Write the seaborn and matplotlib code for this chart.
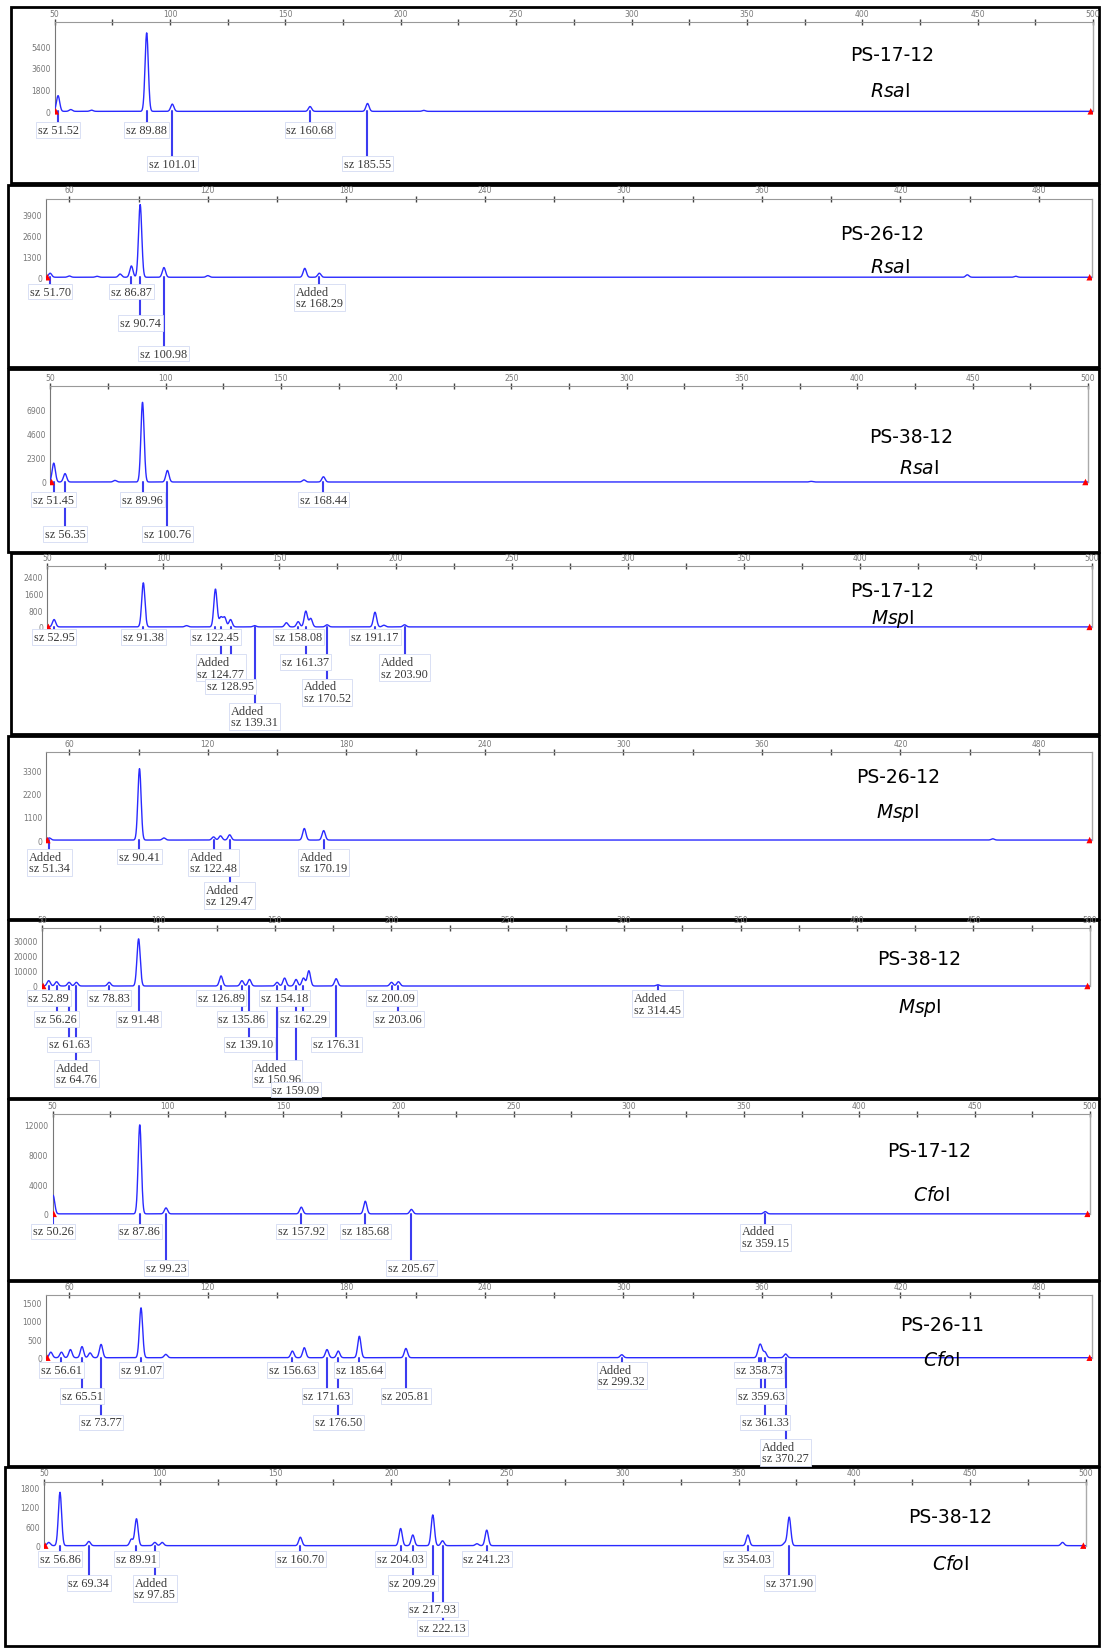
"""Recreate the T-RFLP electropherogram panels (RsaI / MspI / CfoI)."""
import numpy as np
import pandas as pd
import seaborn as sns
import matplotlib
matplotlib.use('Agg')
import matplotlib.pyplot as plt
from matplotlib.patches import Rectangle

# ---------------------------------------------------------------- data
# peaks: fragment size (bp) and height (RFU); calls: labelled sizes
p1_peak_size = [51.5, 57, 66, 89.9, 101.0, 160.7, 185.6, 210]
p1_peak_height = [1300, 150, 100, 6500, 600, 400, 650, 80]
p1_call_size = [51.52, 89.88, 160.68, 101.01, 185.55]
p1_call_added = [0, 0, 0, 0, 0]

p2_peak_size = [51.7, 60, 72, 82, 86.9, 90.7, 101.0, 120, 162, 168.3, 449, 470]
p2_peak_height = [250, 80, 60, 200, 700, 4500, 600, 100, 550, 250, 150, 60]
p2_call_size = [51.70, 86.87, 168.29, 90.74, 100.98]
p2_call_added = [0, 0, 1, 0, 0]

p3_peak_size = [51.45, 56.35, 78, 89.96, 100.76, 160, 168.44, 380]
p3_peak_height = [1800, 800, 150, 7600, 1100, 200, 500, 60]
p3_call_size = [51.45, 89.96, 168.44, 56.35, 100.76]
p3_call_added = [0, 0, 0, 0, 0]

p4_peak_size = [52.95, 91.38, 110, 122.45, 124.77, 126.4, 128.95, 139.31, 153,
                158.08, 161.37, 163.5, 170.52, 191.17, 195, 203.9]
p4_peak_height = [350, 2100, 60, 1800, 450, 450, 350, 60, 200,
                  250, 750, 400, 100, 700, 80, 100]
p4_call_size = [52.95, 91.38, 122.45, 158.08, 191.17, 124.77, 161.37, 203.90,
                128.95, 170.52, 139.31]
p4_call_added = [0, 0, 0, 0, 0, 1, 0, 1, 0, 1, 1]

p5_peak_size = [51.34, 90.41, 101, 122.48, 125.5, 129.47, 161.8, 170.19, 460]
p5_peak_height = [100, 3400, 100, 150, 200, 250, 550, 450, 60]
p5_call_size = [51.34, 90.41, 122.48, 170.19, 129.47]
p5_call_added = [1, 0, 1, 1, 1]

p6_peak_size = [52.89, 56.26, 61.63, 64.76, 78.83, 91.48, 126.89, 135.86, 139.10,
                150.96, 154.18, 159.09, 162.29, 164.6, 176.31, 200.09, 203.06, 314.45]
p6_peak_height = [3500, 2800, 2400, 2400, 2400, 31000, 6600, 3500, 4300,
                  2400, 5200, 4300, 5200, 10000, 4800, 2400, 2800, 800]
p6_call_size = [52.89, 78.83, 126.89, 154.18, 200.09, 314.45, 56.26, 91.48,
                135.86, 162.29, 203.06, 61.63, 139.10, 176.31, 64.76, 150.96,
                159.09]
p6_call_added = [0, 0, 0, 0, 0, 1, 0, 0, 0, 0, 0, 0, 0, 0, 1, 1, 0]

p7_peak_size = [50.26, 87.86, 99.23, 157.92, 185.68, 205.67, 359.15]
p7_peak_height = [2500, 12000, 800, 900, 1700, 600, 300]
p7_call_size = [50.26, 87.86, 157.92, 185.68, 359.15, 99.23, 205.67]
p7_call_added = [0, 0, 0, 0, 1, 0, 0]

p8_peak_size = [52, 56.61, 60.5, 65.51, 69, 73.77, 91.07, 101.8, 156.63, 161.8,
                171.63, 176.50, 185.64, 205.81, 299.32, 358.73, 359.63, 361.33,
                370.27]
p8_peak_height = [150, 150, 220, 300, 130, 360, 1350, 90, 180, 270,
                  220, 180, 580, 250, 80, 200, 250, 150, 100]
p8_call_size = [56.61, 91.07, 156.63, 185.64, 299.32, 358.73, 65.51, 171.63,
                205.81, 359.63, 73.77, 176.50, 361.33, 370.27]
p8_call_added = [0, 0, 0, 0, 1, 0, 0, 0, 0, 0, 0, 0, 0, 1]

p9_peak_size = [52, 56.86, 69.34, 87.7, 89.91, 97.85, 101, 160.70, 204.03, 209.29,
                217.93, 222.13, 237, 241.23, 354.03, 370, 371.90, 490]
p9_peak_height = [100, 1650, 130, 200, 830, 100, 100, 260, 530, 330,
                  950, 150, 60, 480, 330, 80, 880, 100]
p9_call_size = [56.86, 89.91, 160.70, 204.03, 241.23, 354.03, 69.34, 97.85,
                209.29, 371.90, 217.93, 222.13]
p9_call_added = [0, 0, 0, 0, 0, 0, 0, 1, 0, 0, 0, 0]

sample_names = ['PS-17-12', 'PS-26-12', 'PS-38-12', 'PS-17-12', 'PS-26-12',
                'PS-38-12', 'PS-17-12', 'PS-26-11', 'PS-38-12']
enzymes = ['Rsa', 'Rsa', 'Rsa', 'Msp', 'Msp', 'Msp', 'Cfo', 'Cfo', 'Cfo']
y_tick_values = [[0, 1800, 3600, 5400], [0, 1300, 2600, 3900],
                 [0, 2300, 4600, 6900], [0, 800, 1600, 2400],
                 [0, 1100, 2200, 3300], [0, 10000, 20000, 30000],
                 [0, 4000, 8000, 12000], [0, 500, 1000, 1500],
                 [0, 600, 1200, 1800]]
size_scale_a = [50, 100, 150, 200, 250, 300, 350, 400, 450, 500]
size_scale_b = [60, 120, 180, 240, 300, 360, 420, 480]

# ---------------------------------------------------------------- layout
# pixel positions on a 1049.5 x 1570.5 grid (scaled to the 1102 x 1649 output)
W0, H0 = 1102 / 1.05, 1649 / 1.05
LAYOUT = [
    dict(box=(10, 8, 1047, 175), axis=22, base=107, px=(52, 1041), rng=(50, 500),
         yspace=20.7, rows=[124, 156], row_of=[0, 0, 0, 1, 1],
         title=(850, 53), enz=(848, 87), scale='a'),
    dict(box=(8, 177, 1047, 350), axis=190, base=265, px=(44, 1040), rng=(50, 503),
         yspace=20, rows=[278, 308, 337], row_of=[0, 0, 0, 1, 2],
         title=(840, 223), enz=(848, 255), scale='b'),
    dict(box=(8, 352, 1047, 527), axis=369, base=460, px=(48, 1036), rng=(50, 500),
         yspace=23, rows=[476, 509], row_of=[0, 0, 0, 1, 1],
         title=(868, 417), enz=(875, 446), scale='a'),
    dict(box=(10, 528, 1047, 700), axis=540, base=598, px=(45, 1040), rng=(50, 500),
         yspace=16, rows=[607, 631, 654, 677],
         row_of=[0, 0, 0, 0, 0, 1, 1, 1, 2, 2, 3],
         title=(850, 563), enz=(850, 590), scale='a'),
    dict(box=(8, 702, 1047, 876), axis=717, base=801, px=(44, 1040), rng=(50, 503),
         yspace=22, rows=[816, 848], row_of=[0, 0, 0, 0, 1],
         title=(855, 740), enz=(855, 774), scale='b'),
    dict(box=(8, 877, 1047, 1047), axis=885, base=940, px=(40, 1038), rng=(50, 500),
         yspace=14.5, rows=[951, 971, 995, 1017, 1038],
         row_of=[0, 0, 0, 0, 0, 0, 1, 1, 1, 1, 1, 2, 2, 2, 3, 3, 4],
         title=(875, 914), enz=(876, 960), scale='a'),
    dict(box=(8, 1048, 1047, 1220), axis=1062, base=1157, px=(50, 1038), rng=(50, 500),
         yspace=28.3, rows=[1173, 1208], row_of=[0, 0, 0, 0, 0, 1, 1],
         title=(885, 1097), enz=(887, 1139), scale='a'),
    dict(box=(8, 1221, 1047, 1397), axis=1234, base=1294, px=(44, 1040), rng=(50, 503),
         yspace=17.6, rows=[1305, 1330, 1355, 1378],
         row_of=[0, 0, 0, 0, 0, 0, 1, 1, 1, 1, 2, 2, 2, 3],
         title=(897, 1262), enz=(897, 1296), scale='b'),
    dict(box=(5, 1398, 1047, 1569), axis=1412, base=1473, px=(42, 1034), rng=(50, 500),
         yspace=18.5, rows=[1485, 1508, 1533, 1551],
         row_of=[0, 0, 0, 0, 0, 0, 1, 1, 1, 1, 2, 3],
         title=(905, 1445), enz=(905, 1490), scale='a'),
]

PEAKS = [(p1_peak_size, p1_peak_height, p1_call_size, p1_call_added),
         (p2_peak_size, p2_peak_height, p2_call_size, p2_call_added),
         (p3_peak_size, p3_peak_height, p3_call_size, p3_call_added),
         (p4_peak_size, p4_peak_height, p4_call_size, p4_call_added),
         (p5_peak_size, p5_peak_height, p5_call_size, p5_call_added),
         (p6_peak_size, p6_peak_height, p6_call_size, p6_call_added),
         (p7_peak_size, p7_peak_height, p7_call_size, p7_call_added),
         (p8_peak_size, p8_peak_height, p8_call_size, p8_call_added),
         (p9_peak_size, p9_peak_height, p9_call_size, p9_call_added)]

BLUE = '#2a2aff'
MARK_BLUE = '#3c3cf0'
SIGMA = 0.7


def fx(x):
    return x / W0


def fy(y):
    return 1 - y / H0


def draw_panel(fig, idx):
    lay = LAYOUT[idx]
    sizes, heights, calls, added = PEAKS[idx]
    x0, y0, x1, y1 = lay['box']
    fig.add_artist(Rectangle((fx(x0), fy(y1)), fx(x1) - fx(x0), fy(y0) - fy(y1),
                             transform=fig.transFigure, fill=False, lw=2,
                             ec='black', zorder=0))
    bottom = y1 - 3
    lo, hi = lay['rng']
    pl, pr = lay['px']
    ax = fig.add_axes([fx(pl), fy(bottom), fx(pr) - fx(pl),
                       fy(lay['axis']) - fy(bottom)])
    ax.set_facecolor('none')

    yticks = y_tick_values[idx]
    k = (yticks[1] - yticks[0]) / lay['yspace']
    ymax = (lay['base'] - lay['axis']) * k
    ymin = -(bottom - lay['base']) * k

    # trace
    grid = np.arange(lo, hi + 0.05, 0.1)
    trace = np.zeros_like(grid)
    for s, h in zip(sizes, heights):
        trace += h * np.exp(-0.5 * ((grid - s) / SIGMA) ** 2)
    df = pd.DataFrame({'size': grid, 'rfu': trace})
    sns.lineplot(data=df, x='size', y='rfu', ax=ax, color=BLUE, lw=1.0,
                 estimator=None, sort=False, zorder=3)
    sns.scatterplot(x=[lo + 0.5, hi - 1], y=[0, 0], marker='^', color='red',
                    s=22, edgecolor='none', ax=ax, zorder=4)

    # size calls
    for s, a, r in zip(calls, added, lay['row_of']):
        ry = lay['rows'][r]
        top = -(ry - 5 - lay['base']) * k
        ax.plot([s, s], [0, top], color=MARK_BLUE, lw=1.5, zorder=2)
        txt = ('Added\n' if a else '') + f'sz {s:.2f}'
        ax.text(s, top, txt, ha='center', va='top', fontsize=8.8,
                family='Liberation Serif', color='#3a3a3a', linespacing=0.92,
                multialignment='left', zorder=5,
                bbox=dict(boxstyle='square,pad=0.15', fc='white',
                          ec='#d3dbf3', lw=0.6))

    ax.set_xlim(lo, hi)
    ax.set_ylim(ymin, ymax)
    ax.set_xlabel('')
    ax.set_ylabel('')

    # top size axis
    if lay['scale'] == 'a':
        major = size_scale_a
        minor = [v + 25 for v in size_scale_a[:-1]]
    else:
        major = size_scale_b
        minor = [v + 30 for v in size_scale_b[:-1]]
    ax.xaxis.tick_top()
    ax.set_xticks(major)
    ax.set_xticklabels([str(v) for v in major])
    ax.set_xticks(minor, minor=True)
    ax.tick_params(axis='x', which='both', direction='inout', length=4,
                   width=1.0, color='#444', labelsize=5.5, labelcolor='#777',
                   pad=1, bottom=False, top=True, labelbottom=False)

    # left RFU axis
    ax.set_yticks(yticks)
    ax.set_yticklabels([str(v) for v in yticks])
    step = yticks[1] - yticks[0]
    ax.set_yticks(list(np.arange(step / 2, ymax, step / 2)), minor=True)
    ax.tick_params(axis='y', which='both', direction='inout', length=4,
                   width=0.8, color='#555', labelsize=5.5, labelcolor='#777',
                   pad=1)

    ax.spines['bottom'].set_visible(False)
    ax.spines['left'].set_bounds(0, ymax)
    ax.spines['left'].set_color('#777')
    ax.spines['left'].set_linewidth(0.8)
    ax.spines['right'].set_visible(True)
    ax.spines['right'].set_bounds(0, ymax)
    ax.spines['right'].set_color('#aaa')
    ax.spines['right'].set_linewidth(1.0)
    ax.spines['top'].set_color('#999')
    ax.spines['top'].set_linestyle((0, (2, 1)))
    ax.spines['top'].set_linewidth(0.8)

    # sample / enzyme
    tx, ty = lay['title']
    fig.text(fx(tx), fy(ty), sample_names[idx], ha='center', va='center',
             fontsize=13.5, family='DejaVu Sans', color='black', zorder=6)
    ex, ey = lay['enz']
    fig.text(fx(ex), fy(ey), r'$\mathit{' + enzymes[idx] + '}$I', ha='center',
             va='center', fontsize=13.5, family='DejaVu Sans', color='black',
             zorder=6)


def main():
    sns.set_style('white')
    plt.rcParams['font.family'] = ['DejaVu Sans']
    plt.rcParams['mathtext.fontset'] = 'dejavusans'
    fig = plt.figure(figsize=(11.02, 16.49), dpi=100)
    fig.patch.set_facecolor('white')
    for i in range(len(LAYOUT)):
        draw_panel(fig, i)
    fig.savefig('out.png', dpi=100, facecolor='white')


if __name__ == '__main__':
    main()
